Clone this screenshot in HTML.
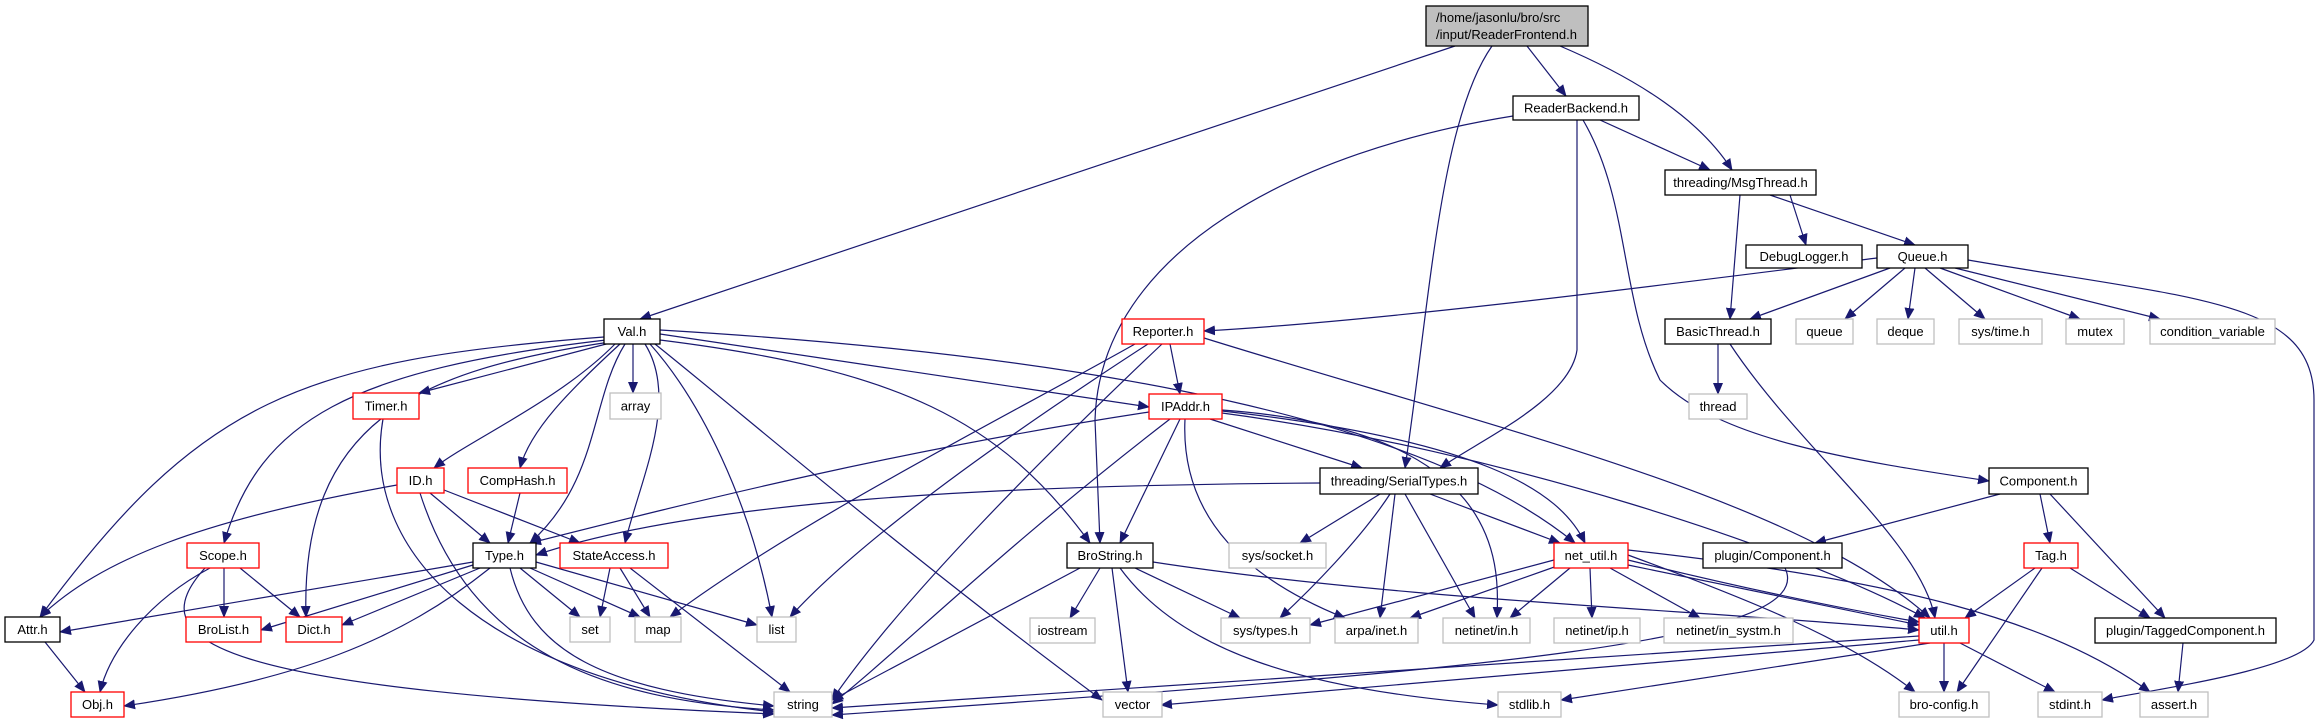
<!DOCTYPE html>
<html><head><meta charset="utf-8"><style>
html,body{margin:0;padding:0;background:#fff}
svg{display:block}
text{font-family:"Liberation Sans",sans-serif;font-size:13px;fill:#000}
.e{fill:none;stroke:#191970;stroke-width:1.2}
.b{fill:#fff;stroke:#000;stroke-width:1.3}
.r{fill:#fff;stroke:#ff0000;stroke-width:1.3}
.g{fill:#fff;stroke:#bfbfbf;stroke-width:1.3}
</style></head><body>
<svg width="2320" height="724" viewBox="0 0 2320 724" xmlns="http://www.w3.org/2000/svg">
<defs><marker id="a" markerUnits="userSpaceOnUse" markerWidth="12" markerHeight="10" refX="11" refY="5" orient="auto"><path d="M0,0 L12,5 L0,10 z" fill="#191970"/></marker></defs>
<g class="e" marker-end="url(#a)">
<path d="M1455,46 L640,319"/>
<path d="M1492,46 C1440,120 1430,300 1405,468"/>
<path d="M1527,46 L1566,96"/>
<path d="M1560,46 C1640,80 1700,120 1732,170"/>
<path d="M1513,116 C1300,150 1100,250 1095,420 L1100,543"/>
<path d="M1577,120 L1577,350 C1570,400 1480,440 1440,468"/>
<path d="M1600,120 L1710,170"/>
<path d="M1583,120 C1630,200 1620,300 1660,380 C1720,440 1850,460 1989,481"/>
<path d="M1790,195 L1806,245"/>
<path d="M1770,195 L1915,245"/>
<path d="M1740,195 L1730,319"/>
<path d="M1877,258 C1700,280 1400,320 1204,331"/>
<path d="M1890,268 L1750,319"/>
<path d="M1905,268 L1845,319"/>
<path d="M1915,268 L1908,319"/>
<path d="M1925,268 L1985,319"/>
<path d="M1940,268 L2080,319"/>
<path d="M1955,268 L2160,319"/>
<path d="M1968,260 C2200,300 2314,300 2314,400 L2314,640 C2300,670 2150,690 2102,700"/>
<path d="M1718,344 L1718,394"/>
<path d="M1730,344 C1800,450 1920,540 1935,618"/>
<path d="M604,337 C300,360 200,400 40,617"/>
<path d="M606,340 C350,370 260,420 224,543"/>
<path d="M610,342 C420,370 300,420 306,617"/>
<path d="M610,343 L419,393"/>
<path d="M615,344 C560,400 470,440 434,468"/>
<path d="M620,344 C570,390 530,430 520,468"/>
<path d="M625,344 C590,400 600,480 530,543"/>
<path d="M633,344 L633,393"/>
<path d="M645,344 C680,400 640,480 625,543"/>
<path d="M650,344 C700,400 750,500 772,617"/>
<path d="M655,344 C750,420 900,550 1102,700"/>
<path d="M660,340 C900,370 1000,420 1090,543"/>
<path d="M660,334 L1149,407"/>
<path d="M660,330 C1000,350 1400,400 1575,543"/>
<path d="M1170,344 L1180,394"/>
<path d="M1135,344 C1000,420 800,520 670,617"/>
<path d="M1148,344 C1000,440 860,540 790,617"/>
<path d="M1162,344 C1050,450 900,600 832,700"/>
<path d="M1204,338 C1500,430 1800,500 1930,618"/>
<path d="M1149,412 C900,450 700,500 530,543"/>
<path d="M1170,419 C1000,550 900,650 832,704"/>
<path d="M1180,419 L1120,543"/>
<path d="M1210,419 L1362,468"/>
<path d="M1185,419 C1180,520 1250,580 1345,618"/>
<path d="M1222,410 C1500,430 1500,560 1497,618"/>
<path d="M1222,413 C1500,450 1800,550 1925,618"/>
<path d="M1222,411 C1480,440 1560,490 1585,543"/>
<path d="M1320,483 C1000,485 700,500 536,555"/>
<path d="M1380,494 L1300,543"/>
<path d="M1390,494 C1360,540 1310,590 1280,618"/>
<path d="M1395,494 L1380,618"/>
<path d="M1405,494 L1475,618"/>
<path d="M1430,494 L1560,543"/>
<path d="M397,485 C200,520 100,560 40,617"/>
<path d="M430,493 L490,543"/>
<path d="M444,490 L580,543"/>
<path d="M420,493 C470,650 600,700 774,710"/>
<path d="M520,493 L508,543"/>
<path d="M383,419 C360,550 480,680 774,712"/>
<path d="M210,568 C150,600 110,650 100,692"/>
<path d="M224,568 L224,617"/>
<path d="M240,568 L300,617"/>
<path d="M205,568 C140,640 200,690 774,714"/>
<path d="M473,562 L60,632"/>
<path d="M473,565 L261,630"/>
<path d="M480,568 L342,625"/>
<path d="M490,568 C400,640 300,680 124,706"/>
<path d="M510,568 C530,650 600,690 774,706"/>
<path d="M520,568 L580,617"/>
<path d="M530,568 L640,617"/>
<path d="M536,562 L757,625"/>
<path d="M610,568 L600,617"/>
<path d="M620,568 L650,617"/>
<path d="M630,568 L790,692"/>
<path d="M45,642 L85,692"/>
<path d="M1100,568 L1070,618"/>
<path d="M1135,568 L1240,618"/>
<path d="M1112,568 L1128,692"/>
<path d="M1120,568 C1180,650 1300,690 1498,705"/>
<path d="M1080,568 L832,700"/>
<path d="M1153,562 C1400,600 1700,610 1919,630"/>
<path d="M1554,560 L1310,625"/>
<path d="M1560,565 L1410,618"/>
<path d="M1570,568 L1510,618"/>
<path d="M1590,568 L1592,618"/>
<path d="M1610,568 L1700,618"/>
<path d="M1628,565 L1919,625"/>
<path d="M1628,560 C1750,590 1850,610 1919,622"/>
<path d="M1628,555 C1750,600 1850,640 1915,692"/>
<path d="M1628,550 C1900,580 2050,620 2150,692"/>
<path d="M1919,636 L832,708"/>
<path d="M1919,640 L1161,705"/>
<path d="M1930,643 L1561,700"/>
<path d="M1944,643 L1944,692"/>
<path d="M1960,643 L2055,692"/>
<path d="M1785,568 C1820,640 1500,670 832,715"/>
<path d="M2000,494 L1815,543"/>
<path d="M2040,494 L2050,543"/>
<path d="M2050,494 L2165,618"/>
<path d="M2035,568 L1965,618"/>
<path d="M2042,568 L1957,692"/>
<path d="M2070,568 L2150,618"/>
<path d="M2183,643 L2178,692"/>
</g>
<rect x="1426" y="6" width="162" height="40" fill="#bfbfbf" stroke="#000" stroke-width="1.3"/>
<text x="1436" y="22">/home/jasonlu/bro/src</text>
<text x="1436" y="39">/input/ReaderFrontend.h</text>
<g id="n"></g>
</svg>
<script>
var N=[
["ReaderBackend.h",1513,1639,96,120,"b"],["threading/MsgThread.h",1665,1816,170,195,"b"],
["DebugLogger.h",1746,1862,245,268,"b"],["Queue.h",1877,1968,245,268,"b"],
["Val.h",604,660,319,344,"b"],["Reporter.h",1122,1204,319,344,"r"],["BasicThread.h",1665,1771,319,344,"b"],
["queue",1796,1853,319,344,"g"],["deque",1877,1934,319,344,"g"],["sys/time.h",1959,2042,319,344,"g"],
["mutex",2066,2124,319,344,"g"],["condition_variable",2150,2275,319,344,"g"],
["Timer.h",353,419,393,419,"r"],["array",610,661,393,419,"g"],["IPAddr.h",1149,1222,394,419,"r"],["thread",1689,1747,394,419,"g"],
["ID.h",397,444,468,493,"r"],["CompHash.h",468,567,468,493,"r"],["threading/SerialTypes.h",1320,1478,468,494,"b"],["Component.h",1989,2088,468,494,"b"],
["Scope.h",187,259,543,568,"r"],["Type.h",473,536,543,568,"b"],["StateAccess.h",560,668,543,568,"r"],["BroString.h",1067,1153,543,568,"b"],
["sys/socket.h",1229,1326,543,568,"g"],["net_util.h",1554,1628,543,568,"r"],["plugin/Component.h",1703,1842,543,568,"b"],["Tag.h",2024,2078,543,568,"r"],
["Attr.h",5,60,617,642,"b"],["BroList.h",186,261,617,642,"r"],["Dict.h",286,342,617,642,"r"],["set",570,610,617,642,"g"],["map",635,681,617,642,"g"],
["list",757,796,617,642,"g"],["iostream",1030,1095,618,643,"g"],["sys/types.h",1221,1310,618,643,"g"],["arpa/inet.h",1335,1418,618,643,"g"],
["netinet/in.h",1443,1530,618,643,"g"],["netinet/ip.h",1554,1640,618,643,"g"],["netinet/in_systm.h",1664,1793,618,643,"g"],
["util.h",1919,1969,618,643,"r"],["plugin/TaggedComponent.h",2095,2276,618,643,"b"],
["Obj.h",71,124,692,717,"r"],["string",774,832,692,717,"g"],["vector",1103,1162,692,717,"g"],["stdlib.h",1498,1561,692,717,"g"],
["bro-config.h",1899,1989,692,717,"g"],["stdint.h",2038,2102,692,717,"g"],["assert.h",2140,2208,692,717,"g"]];
var g=document.getElementById("n"),s="";
N.forEach(function(n){s+='<rect class="'+n[5]+'" x="'+n[1]+'" y="'+n[3]+'" width="'+(n[2]-n[1])+'" height="'+(n[4]-n[3])+'"/>'+
'<text x="'+((n[1]+n[2])/2)+'" y="'+((n[3]+n[4])/2+4.5)+'" text-anchor="middle">'+n[0]+'</text>';});
g.innerHTML=s;
</script>
</body></html>
